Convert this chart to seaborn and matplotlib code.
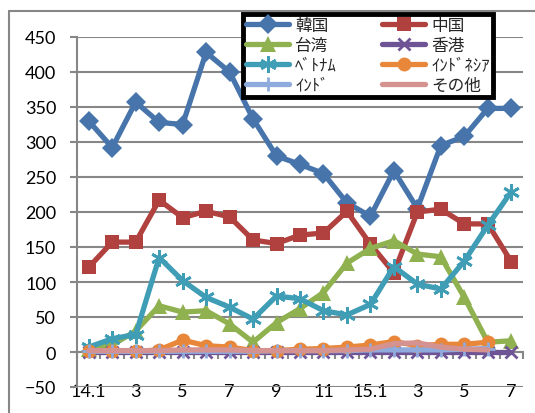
import numpy as np
import pandas as pd
import matplotlib
matplotlib.use("Agg")
import matplotlib.pyplot as plt
from matplotlib.lines import Line2D
import seaborn as sns

months = ["14.1", "2", "3", "4", "5", "6", "7", "8", "9", "10", "11", "12",
          "15.1", "2", "3", "4", "5", "6", "7"]
shown_labels = ["14.1", "", "3", "", "5", "", "7", "", "9", "", "11", "",
                "15.1", "", "3", "", "5", "", "7"]

korea = [330, 292, 357, 328, 325, 428, 400, 333, 280, 268, 255, 213, 194, 259, 205, 295, 308, 348, 348]
china = [121, 157, 157, 217, 192, 201, 193, 160, 155, 167, 170, 201, 154, 113, 200, 204, 183, 183, 129]
taiwan = [5, 10, 30, 66, 57, 59, 40, 14, 42, 62, 85, 127, 148, 159, 140, 136, 78, 14, 16]
hongkong = [0, 0, 0, 0, 0, 0, 0, 0, 0, 0, 0, 0, 0, 0, 0, 0, 0, 0, 0]
vietnam = [7, 19, 25, 135, 102, 78, 64, 47, 80, 76, 59, 53, 68, 122, 97, 90, 130, 181, 229]
indonesia = [1, 1, 1, 3, 17, 9, 7, 2, 2, 4, 5, 7, 10, 15, 9, 11, 11, 14, np.nan]
india = [1, 1, 1, 1, 1, 1, 1, 1, 2, 2, 2, 2, 3, 3, 3, 3, 4, 5, np.nan]
others = [2, 2, 2, 2, 3, 3, 3, 2, 2, 2, 2, 3, 4, 12, 13, 7, 4, 3, np.nan]

series_names = ["韓国", "中国", "台湾", "香港", "ﾍﾞﾄﾅﾑ", "ｲﾝﾄﾞﾈｼｱ", "ｲﾝﾄﾞ", "その他"]
series_values = [korea, china, taiwan, hongkong, vietnam, indonesia, india, others]

styles = {
    "韓国": dict(color="#4674AB", marker="D", ms=10, mew=0),
    "中国": dict(color="#B0413E", marker="s", ms=10, mew=0),
    "台湾": dict(color="#8FB14F", marker="^", ms=11, mew=0),
    "香港": dict(color="#6E5494", marker="x", ms=8, mew=2),
    "ﾍﾞﾄﾅﾑ": dict(color="#3F9DB6", marker=(6, 2, 0), ms=12, mew=2),
    "ｲﾝﾄﾞﾈｼｱ": dict(color="#E8873A", marker="o", ms=10, mew=0),
    "ｲﾝﾄﾞ": dict(color="#8FAADC", marker="+", ms=10, mew=2),
    "その他": dict(color="#D49290", marker=None, ms=0, mew=0),
}

rows = []
for name, vals in zip(series_names, series_values):
    for i, v in enumerate(vals):
        rows.append({"series": name, "pos": i, "value": v})
df = pd.DataFrame(rows)

sns.set_style("white")
plt.rcParams["font.family"] = ["Lato", "Noto Sans CJK JP", "DejaVu Sans"]

fig = plt.figure(figsize=(5.35, 4.14), dpi=100)
ax = fig.add_axes([77 / 535, 1 - 388 / 414, (523 - 77) / 535, (388 - 38) / 414])

grid_c = "#878787"
handles = {}
for z, name in enumerate(series_names):
    st = styles[name]
    sub = df[df["series"] == name].dropna()
    sns.lineplot(data=sub, x="pos", y="value", ax=ax, color=st["color"],
                 linewidth=3.8, marker=st["marker"] if st["marker"] else None,
                 markersize=st["ms"], markeredgewidth=st["mew"],
                 markeredgecolor=st["color"], markerfacecolor=st["color"],
                 zorder=3 + z, legend=False, errorbar=None)
    handles[name] = Line2D([], [], color=st["color"], linewidth=3.8,
                           marker=st["marker"] if st["marker"] else None,
                           markersize=st["ms"], markeredgewidth=st["mew"],
                           markeredgecolor=st["color"], markerfacecolor=st["color"])

ax.set_xlim(-0.5, 18.5)
ax.set_ylim(-50, 450)
ax.set_yticks(np.arange(-50, 451, 50))
ax.set_xticks(range(len(months)))
ax.set_xticklabels(shown_labels)
ax.set_xticks(np.arange(-0.5, 18.6, 1), minor=True)
ax.set_xlabel("")
ax.set_ylabel("")

ax.yaxis.grid(True, color=grid_c, linewidth=1.5, zorder=0)
ax.xaxis.grid(False)
ax.set_axisbelow(True)
for s in ["top", "right"]:
    ax.spines[s].set_visible(False)
ax.spines["left"].set_color(grid_c)
ax.spines["left"].set_linewidth(1.5)
ax.spines["bottom"].set_position(("data", 0))
ax.spines["bottom"].set_color(grid_c)
ax.spines["bottom"].set_linewidth(1.5)
ax.spines["bottom"].set_zorder(2)

ax.tick_params(axis="y", which="major", direction="out", length=5, width=1.5,
               color=grid_c, labelsize=13, pad=10, labelcolor="black", left=True)
ax.tick_params(axis="x", which="major", length=0, labelsize=13, pad=22,
               labelcolor="black", bottom=True)
ax.tick_params(axis="x", which="minor", direction="out", length=5, width=1.5,
               color=grid_c, bottom=True)

order = ["韓国", "台湾", "ﾍﾞﾄﾅﾑ", "ｲﾝﾄﾞ", "中国", "香港", "ｲﾝﾄﾞﾈｼｱ", "その他"]
leg = fig.legend([handles[n] for n in order], order, ncol=2,
                 loc="upper left", bbox_to_anchor=(243 / 535, 1 - 15 / 414),
                 prop={"family": ["Noto Sans CJK JP", "DejaVu Sans"], "size": 12},
                 frameon=True, fancybox=False, framealpha=1, edgecolor="black",
                 handlelength=2.6, handletextpad=0.35, columnspacing=2.7,
                 labelspacing=0.17, borderpad=0.18, borderaxespad=0)
leg.get_frame().set_linewidth(3.5)
leg.set_zorder(20)

# outer chart border (top and left visible)
fig.add_artist(Line2D([9 / 535, 9 / 535], [0, 1 - 12 / 414], color=grid_c,
                      linewidth=1.5, transform=fig.transFigure))
fig.add_artist(Line2D([9 / 535, 1], [1 - 12 / 414, 1 - 12 / 414], color=grid_c,
                      linewidth=1.5, transform=fig.transFigure))

fig.savefig("out.png", dpi=100)
